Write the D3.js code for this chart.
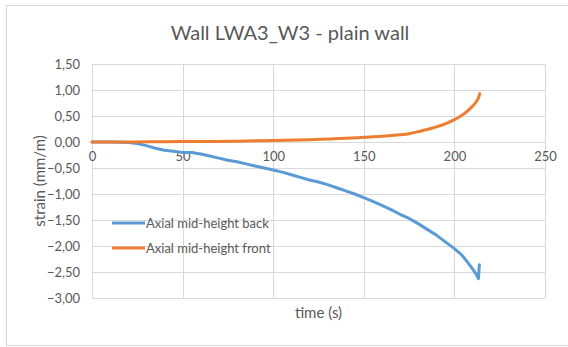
<!DOCTYPE html>
<html>
<head>
<meta charset="utf-8">
<script src="https://cdn.jsdelivr.net/npm/d3@7"></script>
<style>
  html, body { margin: 0; padding: 0; background: #fff; }
  svg { display: block; }
  text { font-family: Lato, "Open Sans", sans-serif; fill: #595959; }
</style>
</head>
<body>
<div id="chart"></div>
<script>
const chartTitle = "Wall LWA3_W3 - plain wall";
const xTitle = "time (s)";
const yTitle = "strain (mm/m)";
const seriesNames = ["Axial mid-height back", "Axial mid-height front"];
const seriesColors = ["#5B9BD5", "#ED7D31"];

const xTicks = [0, 50, 100, 150, 200, 250];
const yTicks = [1.5, 1.0, 0.5, 0.0, -0.5, -1.0, -1.5, -2.0, -2.5, -3.0];

// Axial mid-height back
const timeBack = [0, 10, 20, 25, 30, 35, 40, 45, 50, 55, 60, 65, 70, 75, 80, 85, 90, 95, 100,
  105, 110, 115, 120, 125, 130, 135, 140, 145, 150, 155, 160, 165, 170, 175, 180, 185, 190,
  195, 200, 204, 207, 210, 212, 213.3, 213.6, 213.8];
const strainBack = [0, 0, -0.01, -0.03, -0.07, -0.12, -0.16, -0.18, -0.2, -0.2, -0.23, -0.27,
  -0.31, -0.35, -0.38, -0.42, -0.46, -0.5, -0.54, -0.58, -0.63, -0.68, -0.73, -0.77, -0.82,
  -0.88, -0.94, -1.0, -1.07, -1.14, -1.22, -1.3, -1.39, -1.47, -1.57, -1.68, -1.79, -1.92,
  -2.05, -2.17, -2.3, -2.44, -2.54, -2.63, -2.45, -2.36];

// Axial mid-height front
const timeFront = [0, 20, 40, 60, 80, 100, 120, 140, 150, 160, 170, 175, 180, 185, 190, 195,
  200, 204, 207, 210, 212, 213.3, 214];
const strainFront = [0, 0, 0.005, 0.01, 0.015, 0.03, 0.045, 0.07, 0.09, 0.11, 0.14, 0.16,
  0.2, 0.24, 0.29, 0.35, 0.43, 0.51, 0.59, 0.69, 0.77, 0.85, 0.93];

const W = 568, H = 347;
const plot = { left: 92, right: 545, top: 64, bottom: 298 };

const svg = d3.select("#chart").append("svg").attr("width", W).attr("height", H);

// outer chart border
svg.append("rect").attr("x", 6.5).attr("y", 5.5).attr("width", 570).attr("height", 340)
  .attr("fill", "#fff").attr("stroke", "#D9D9D9").attr("stroke-width", 1);

const x = d3.scaleLinear().domain([0, 250]).range([plot.left, plot.right]);
const y = d3.scaleLinear().domain([-3, 1.5]).range([plot.bottom, plot.top]);

const loc = d3.formatLocale({ decimal: ",", thousands: ".", grouping: [3], currency: ["", ""] });
const fmtY = loc.format(".2f");
const fmtX = loc.format("d");

// gridlines
const grid = svg.append("g");
grid.selectAll("line.h").data(yTicks).join("line")
  .attr("x1", plot.left).attr("x2", plot.right)
  .attr("y1", d => Math.round(y(d)) + 0.5).attr("y2", d => Math.round(y(d)) + 0.5)
  .attr("stroke", "#D9D9D9").attr("stroke-width", 1);
grid.selectAll("line.v").data(xTicks).join("line")
  .attr("y1", plot.top).attr("y2", plot.bottom)
  .attr("x1", d => Math.round(x(d)) + 0.5).attr("x2", d => Math.round(x(d)) + 0.5)
  .attr("stroke", "#D9D9D9").attr("stroke-width", 1);

// y axis labels
const yAxis = d3.axisLeft(y).tickValues(yTicks).tickFormat(fmtY).tickSize(0).tickPadding(12);
const gy = svg.append("g").attr("transform", `translate(${plot.left},0)`).call(yAxis);
gy.select(".domain").remove();
gy.selectAll("text").style("font-size", "13px").attr("fill", "#595959")
  .style("font-family", "Lato, sans-serif");

// x axis labels at y = 0
const xAxis = d3.axisBottom(x).tickValues(xTicks).tickFormat(fmtX).tickSize(0).tickPadding(10);
const gx = svg.append("g").attr("transform", `translate(0,${y(0)})`).call(xAxis);
gx.select(".domain").attr("stroke", "#D9D9D9");
gx.selectAll("text").style("font-size", "13px").attr("fill", "#595959")
  .style("font-family", "Lato, sans-serif");

// lines
const lineBack = d3.line().x(d => x(d[0])).y(d => y(d[1]));
const lineFront = d3.line().x(d => x(d[0])).y(d => y(d[1])).curve(d3.curveMonotoneX);
svg.append("path").datum(d3.zip(timeBack, strainBack))
  .attr("d", lineBack).attr("fill", "none").attr("stroke", seriesColors[0])
  .attr("stroke-width", 3).attr("stroke-linejoin", "round").attr("stroke-linecap", "round");
svg.append("path").datum(d3.zip(timeFront, strainFront))
  .attr("d", lineFront).attr("fill", "none").attr("stroke", seriesColors[1])
  .attr("stroke-width", 3).attr("stroke-linejoin", "round").attr("stroke-linecap", "round");

// title
svg.append("text").attr("x", 290).attr("y", 40).attr("text-anchor", "middle")
  .style("font-size", "20px").text(chartTitle);

// axis titles
svg.append("text").attr("x", (plot.left + plot.right) / 2).attr("y", 318)
  .attr("text-anchor", "middle").style("font-size", "15px").text(xTitle);
svg.append("text").attr("transform", `translate(45,${(plot.top + plot.bottom) / 2}) rotate(-90)`)
  .attr("text-anchor", "middle").style("font-size", "15px").text(yTitle);

// legend
const legend = svg.append("g");
const legY = [223, 248];
seriesNames.forEach((name, i) => {
  legend.append("line").attr("x1", 112).attr("x2", 145)
    .attr("y1", legY[i]).attr("y2", legY[i])
    .attr("stroke", seriesColors[i]).attr("stroke-width", 3);
  legend.append("text").attr("x", 146).attr("y", legY[i]).attr("dy", "0.35em")
    .style("font-size", "13px").text(name);
});
</script>
</body>
</html>
